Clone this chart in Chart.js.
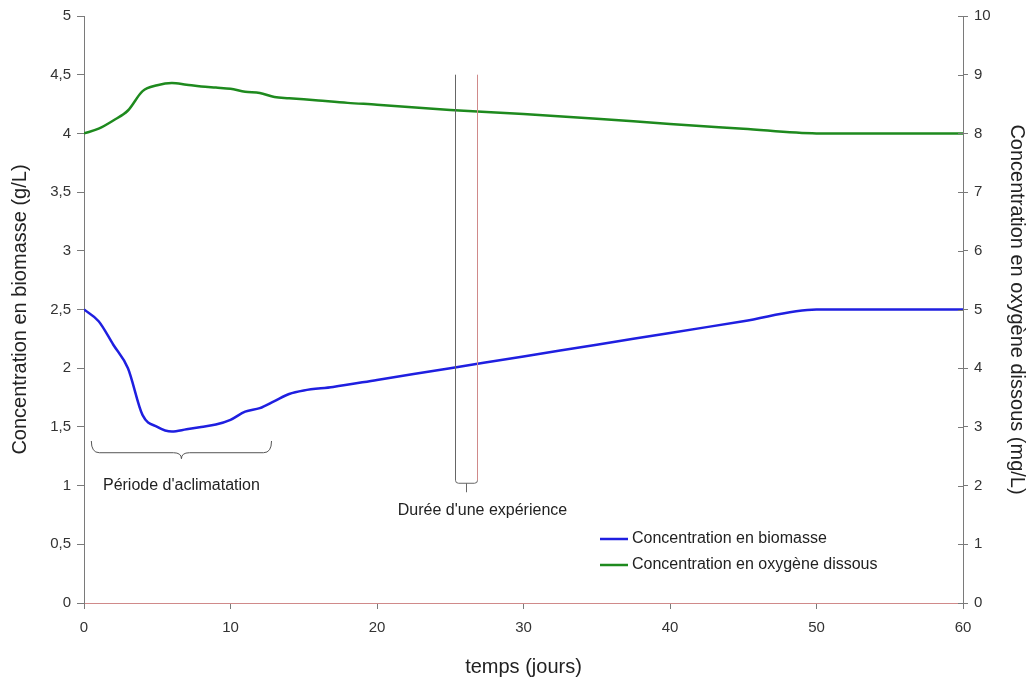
<!DOCTYPE html>
<html>
<head>
<meta charset="utf-8">
<script src="https://cdn.jsdelivr.net/npm/chart.js@4/dist/chart.umd.min.js"></script>
<style>
  html, body { margin: 0; padding: 0; background: #fff; }
  #wrap { width: 1029px; height: 681px; }
</style>
</head>
<body>
<div id="wrap"><canvas id="graph"></canvas></div>
<script>
// temps (jours) / biomasse (g/L, axe gauche)
const joursBiomasse = [0, 1, 2, 3, 4, 5, 6, 7, 8, 9, 10, 11, 12, 13, 14, 15, 17, 20, 25, 30, 35, 40, 45, 50, 60];
const biomasse = [2.5, 2.4, 2.2, 2.0, 1.6, 1.5, 1.46, 1.48, 1.5, 1.52, 1.56, 1.63, 1.66, 1.72, 1.78, 1.81, 1.84, 1.9, 2.0, 2.1, 2.2, 2.3, 2.4, 2.5, 2.5];

// temps (jours) / oxygène dissous (mg/L, axe droit)
const joursOxygene = [0, 1, 2, 3, 4, 5, 6, 7, 8, 9, 10, 11, 12, 13, 14, 16, 18, 20, 25, 30, 35, 40, 45, 50, 60];
const oxygene = [8.0, 8.08, 8.22, 8.39, 8.72, 8.82, 8.86, 8.83, 8.8, 8.78, 8.76, 8.71, 8.69, 8.62, 8.6, 8.56, 8.52, 8.49, 8.4, 8.33, 8.25, 8.16, 8.08, 8.0, 8.0];

const ticksGauche = [0, 0.5, 1, 1.5, 2, 2.5, 3, 3.5, 4, 4.5, 5];
const ticksDroite = [0, 1, 2, 3, 4, 5, 6, 7, 8, 9, 10];

// annotations (en unités des axes : jours / g/L)
const periodeAclim = { debut: 0.5, fin: 12.8, texte: "Période d'aclimatation" };
const dureeExp = { debut: 25.3, fin: 26.8, haut: 4.5, bas: 1.02, texte: "Durée d'une expérience" };

const police = '"Liberation Sans", Arial, sans-serif';
const gris = '#7a7a7a';

function toPoints(xs, ys) {
    return xs.map((x, i) => ({ x: x, y: ys[i] }));
}

// Dessin des annotations et de la légende
const annotations = {
    id: 'annotations',
    afterDraw(chart) {
        const ctx = chart.ctx;
        const x = chart.scales.x;
        const y = chart.scales.y;
        const y1 = chart.scales.y1;
        ctx.save();

        // petites graduations côté intérieur de l'axe droit
        ctx.strokeStyle = gris;
        ctx.lineWidth = 1;
        ticksDroite.forEach(v => {
            const py = Math.round(y1.getPixelForValue(v)) + 0.5;
            ctx.beginPath();
            ctx.moveTo(y1.left - 5, py);
            ctx.lineTo(y1.left, py);
            ctx.stroke();
        });

        // accolade "Période d'aclimatation"
        const bx1 = x.getPixelForValue(periodeAclim.debut);
        const bx2 = x.getPixelForValue(periodeAclim.fin);
        const bxm = (bx1 + bx2) / 2;
        const byTop = y.getPixelForValue(1.38);
        const byMid = y.getPixelForValue(1.28);
        const r = 8;
        ctx.strokeStyle = '#555';
        ctx.lineWidth = 1;
        ctx.beginPath();
        ctx.moveTo(bx1, byTop);
        ctx.quadraticCurveTo(bx1, byMid, bx1 + r, byMid);
        ctx.lineTo(bxm - r, byMid);
        ctx.quadraticCurveTo(bxm, byMid, bxm, byMid + 6);
        ctx.quadraticCurveTo(bxm, byMid, bxm + r, byMid);
        ctx.lineTo(bx2 - r, byMid);
        ctx.quadraticCurveTo(bx2, byMid, bx2, byTop);
        ctx.stroke();

        ctx.fillStyle = '#222';
        ctx.font = '16px ' + police;
        ctx.textAlign = 'center';
        ctx.textBaseline = 'middle';
        ctx.fillText(periodeAclim.texte, bxm, y.getPixelForValue(1.0));

        // rectangle "Durée d'une expérience"
        const dx1 = Math.round(x.getPixelForValue(dureeExp.debut)) + 0.5;
        const dx2 = Math.round(x.getPixelForValue(dureeExp.fin)) + 0.5;
        const dyTop = y.getPixelForValue(dureeExp.haut);
        const dyBot = y.getPixelForValue(dureeExp.bas);
        ctx.strokeStyle = '#666';
        ctx.beginPath();
        ctx.moveTo(dx1, dyTop);
        ctx.lineTo(dx1, dyBot - 3);
        ctx.quadraticCurveTo(dx1, dyBot, dx1 + 3, dyBot);
        ctx.lineTo(dx2 - 3, dyBot);
        ctx.quadraticCurveTo(dx2, dyBot, dx2, dyBot - 3);
        ctx.stroke();
        ctx.strokeStyle = '#d08a8a';
        ctx.beginPath();
        ctx.moveTo(dx2, dyTop);
        ctx.lineTo(dx2, dyBot - 3);
        ctx.stroke();
        ctx.strokeStyle = '#666';
        ctx.beginPath();
        ctx.moveTo((dx1 + dx2) / 2, dyBot);
        ctx.lineTo((dx1 + dx2) / 2, dyBot + 9);
        ctx.stroke();
        ctx.fillStyle = '#222';
        ctx.fillText(dureeExp.texte, x.getPixelForValue(27.2), y.getPixelForValue(0.79));

        // légende
        const lx = 600;
        const ly = [539, 565];
        ctx.textAlign = 'left';
        chart.data.datasets.forEach((ds, i) => {
            ctx.strokeStyle = ds.borderColor;
            ctx.lineWidth = 2.5;
            ctx.beginPath();
            ctx.moveTo(lx, ly[i]);
            ctx.lineTo(lx + 28, ly[i]);
            ctx.stroke();
            ctx.fillStyle = '#222';
            ctx.fillText(ds.label, lx + 32, ly[i]);
        });

        ctx.restore();
    }
};

const ctx = document.getElementById('graph').getContext('2d');
new Chart(ctx, {
    type: 'line',
    data: {
        datasets: [
            {
                label: 'Concentration en biomasse',
                data: toPoints(joursBiomasse, biomasse),
                borderColor: '#1f1fe0',
                borderWidth: 2.5,
                pointRadius: 0,
                cubicInterpolationMode: 'monotone',
                yAxisID: 'y'
            },
            {
                label: 'Concentration en oxygène dissous',
                data: toPoints(joursOxygene, oxygene),
                borderColor: '#1e8a1e',
                borderWidth: 2.5,
                pointRadius: 0,
                cubicInterpolationMode: 'monotone',
                yAxisID: 'y1'
            }
        ]
    },
    options: {
        responsive: true,
        maintainAspectRatio: false,
        animation: false,
        layout: { padding: { top: 16 } },
        plugins: {
            legend: { display: false },
            tooltip: { enabled: false }
        },
        scales: {
            x: {
                type: 'linear',
                min: 0,
                max: 60,
                afterFit: s => { s.height = 78; },
                ticks: { stepSize: 10, color: '#333', padding: 10, font: { family: police, size: 15 } },
                grid: { drawOnChartArea: false, tickLength: 6, color: gris },
                border: { color: '#d08a8a', width: 1 },
                title: {
                    display: true,
                    text: 'temps (jours)',
                    color: '#222',
                    font: { family: police, size: 20 },
                    padding: { top: 0, bottom: 2 }
                }
            },
            y: {
                position: 'left',
                min: 0,
                max: 5,
                afterFit: s => { s.width = 84; },
                afterBuildTicks: s => { s.ticks = ticksGauche.map(v => ({ value: v })); },
                ticks: {
                    color: '#333',
                    padding: 6,
                    font: { family: police, size: 15 },
                    callback: v => String(v).replace('.', ',')
                },
                grid: { drawOnChartArea: false, tickLength: 7, color: gris },
                border: { color: gris, width: 1 },
                title: {
                    display: true,
                    text: 'Concentration en biomasse (g/L)',
                    color: '#222',
                    font: { family: police, size: 20 },
                    padding: { top: 8, bottom: 0 }
                }
            },
            y1: {
                position: 'right',
                min: 0,
                max: 10,
                afterFit: s => { s.width = 66; },
                afterBuildTicks: s => { s.ticks = ticksDroite.map(v => ({ value: v })); },
                ticks: { color: '#333', padding: 6, font: { family: police, size: 15 } },
                grid: { drawOnChartArea: false, tickLength: 5, color: gris },
                border: { color: gris, width: 1 },
                title: {
                    display: true,
                    text: 'Concentration en oxygène dissous (mg/L)',
                    color: '#222',
                    font: { family: police, size: 20 },
                    padding: { top: 0, bottom: 0 }
                }
            }
        }
    },
    plugins: [annotations]
});
</script>
</body>
</html>
